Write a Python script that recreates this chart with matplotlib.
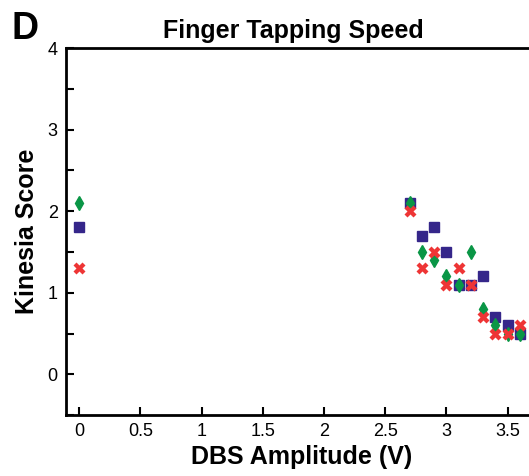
import matplotlib.pyplot as plt
import numpy as np

plt.rcParams['font.family'] = ['Liberation Sans', 'DejaVu Sans']

# DBS amplitude (V) and Kinesia scores for three series
amp = [0, 2.7, 2.8, 2.9, 3.0, 3.1, 3.2, 3.3, 3.4, 3.5, 3.6]
score_square = [1.8, 2.1, 1.7, 1.8, 1.5, 1.1, 1.1, 1.2, 0.7, 0.6, 0.5]
score_diamond = [2.1, 2.1, 1.5, 1.4, 1.2, 1.1, 1.5, 0.8, 0.6, 0.5, 0.5]
score_cross = [1.3, 2.0, 1.3, 1.5, 1.1, 1.3, 1.1, 0.7, 0.5, 0.5, 0.6]

xticks = [0, 0.5, 1, 1.5, 2, 2.5, 3, 3.5]
xticklabels = ["0", "0.5", "1", "1.5", "2", "2.5", "3", "3.5"]
yticks = [0, 1, 2, 3, 4]

fig = plt.figure(figsize=(5.29, 4.76), dpi=100)
ax = fig.add_axes([0.125, 0.128, 0.89, 0.771])

ax.plot(amp, score_square, ls='none', marker='s', ms=7.5, color='#35268a', zorder=3)
ax.plot(amp, score_diamond, ls='none', marker='d', ms=7.5, color='#0a9646', zorder=4)
ax.plot(amp, score_cross, ls='none', marker='X', ms=8, color='#ee3535', mec='none', zorder=5)

ax.set_xlim(-0.106, 3.74)
ax.set_ylim(-0.5, 4)
ax.set_xticks(xticks)
ax.set_xticklabels(xticklabels)
ax.set_yticks(yticks)
ax.set_yticks(np.arange(-0.5, 4.0, 1.0), minor=True)

ax.tick_params(axis='both', which='major', direction='in', length=6, width=1.5,
               labelsize=13, pad=6)
ax.tick_params(axis='y', which='minor', direction='in', length=6, width=1.5)
ax.tick_params(axis='x', which='minor', bottom=False)

for side in ['left', 'bottom', 'top']:
    ax.spines[side].set_linewidth(2)
ax.spines['right'].set_visible(False)

ax.set_xlabel("DBS Amplitude (V)", fontsize=18, fontweight='bold', labelpad=3)
ax.set_ylabel("Kinesia Score", fontsize=18, fontweight='bold', labelpad=6)
fig.text(0.555, 0.935, "Finger Tapping Speed", fontsize=18, fontweight='bold',
         ha='center', va='center')
fig.text(0.022, 0.94, "D", fontsize=27, fontweight='bold', ha='left', va='center')

fig.savefig("out.png", dpi=100)
